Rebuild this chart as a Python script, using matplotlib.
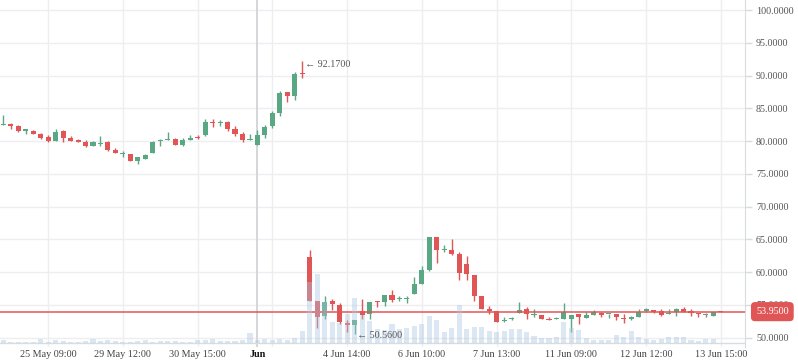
import matplotlib
matplotlib.use("Agg")
import matplotlib.pyplot as plt
from matplotlib.transforms import blended_transform_factory
import numpy as np

# ---------------- data ----------------
opens = [82.5, 82.66, 82.36, 81.6, 81.55, 81.1, 80.6, 80.0, 81.55, 80.5,
         80.1, 79.9, 79.3, 79.6, 79.9, 78.65, 78.0, 78.0, 77.0, 77.3,
         78.1, 80.0, 80.2, 80.35, 79.4, 80.2, 80.65, 80.9, 82.9, 82.7,
         82.9, 81.85, 81.0, 80.1, 79.4, 80.9, 82.3, 84.35, 87.5, 86.8,
         90.3, 62.36, 55.6, 53.3, 55.5, 55.0, 52.2, 51.85, 54.1, 53.55,
         55.5, 55.4, 56.5, 55.9, 55.9, 56.65, 58.2, 60.3, 65.3, 63.3,
         63.4, 62.8, 61.25, 59.6, 56.4, 54.4, 54.1, 52.45, 52.8, 53.7,
         54.3, 53.5, 53.45, 52.8, 52.75, 52.9, 52.85, 53.55, 52.95, 53.45,
         53.7, 53.6, 53.6, 52.9, 52.85, 53.2, 54.1, 54.2, 54.1, 53.65,
         53.95, 54.35, 54.1, 53.7, 53.4, 53.3, 54.0]
highs = [83.9, 82.8, 82.46, 81.9, 81.7, 81.2, 80.9, 81.8, 81.7, 80.8,
         80.3, 80.2, 80.0, 80.8, 80.0, 78.9, 78.4, 78.0, 77.6, 78.0,
         80.0, 80.3, 81.3, 80.5, 80.5, 80.9, 80.9, 83.4, 83.4, 83.2,
         83.1, 82.3, 81.3, 81.0, 81.7, 82.4, 84.55, 87.6, 87.5, 90.5,
         92.17, 63.4, 55.6, 56.4, 55.9, 55.25, 52.6, 52.7, 55.9, 55.45,
         55.5, 56.5, 57.3, 56.3, 56.3, 59.3, 60.9, 65.4, 65.3, 64.1,
         65.0, 63.0, 62.5, 59.6, 56.4, 54.85, 54.1, 53.1, 53.2, 55.35,
         54.7, 54.4, 53.45, 53.1, 53.2, 55.25, 53.45, 53.55, 53.9, 54.2,
         53.9, 53.65, 53.6, 53.55, 53.35, 54.4, 54.5, 54.2, 54.35, 54.35,
         54.5, 54.65, 54.4, 53.7, 53.7, 53.95, 54.0]
lows = [82.4, 81.9, 81.3, 81.1, 81.1, 80.3, 79.8, 80.0, 79.9, 80.0,
        79.9, 79.1, 79.3, 79.3, 78.4, 78.1, 77.6, 77.0, 76.5, 77.3,
        78.1, 79.2, 80.2, 79.4, 79.3, 80.2, 80.3, 80.8, 82.2, 82.3,
        81.6, 80.8, 79.9, 80.1, 79.4, 80.5, 82.05, 83.75, 85.9, 86.2,
        89.55, 55.5, 51.4, 52.8, 54.2, 52.1, 50.8, 50.56, 52.8, 52.8,
        54.6, 54.75, 55.35, 55.6, 55.25, 56.65, 58.2, 60.2, 61.45, 63.1,
        62.6, 58.8, 58.8, 55.6, 54.4, 53.6, 52.4, 52.4, 52.7, 53.7,
        52.8, 53.1, 52.8, 52.6, 52.75, 52.9, 50.8, 52.0, 52.95, 53.45,
        53.2, 52.95, 52.6, 52.2, 52.6, 53.2, 53.95, 53.7, 53.3, 53.65,
        53.35, 53.95, 53.3, 53.2, 53.2, 53.3, 53.95]
closes = [82.6, 82.36, 81.55, 81.7, 81.1, 80.5, 80.0, 81.4, 80.5, 80.0,
          79.9, 79.3, 79.9, 79.7, 78.65, 78.1, 78.1, 77.0, 77.5, 77.8,
          79.9, 80.1, 80.35, 79.4, 80.2, 80.5, 80.5, 82.9, 82.8, 82.8,
          81.9, 81.0, 80.2, 80.15, 80.9, 82.1, 84.35, 87.4, 86.8, 90.3,
          90.25, 55.6, 53.2, 55.35, 55.15, 52.3, 51.85, 52.6, 53.5, 55.45,
          55.4, 56.5, 55.75, 55.95, 55.95, 58.2, 60.3, 65.3, 63.4, 63.4,
          62.8, 59.9, 59.7, 56.4, 54.4, 54.1, 52.4, 52.7, 53.05, 54.2,
          53.55, 53.6, 52.8, 52.7, 52.85, 53.9, 53.45, 53.1, 53.45, 53.95,
          53.45, 53.65, 53.1, 52.85, 53.1, 53.95, 54.3, 53.95, 53.45, 53.7,
          54.4, 53.95, 53.7, 53.6, 53.4, 53.95, 53.95]
volumes = [2.5, 0.5, 0.5, 0.5, 0.5, 3.5, 0.5, 2.5, 1.5, 0.5,
           0.5, 1.5, 3.5, 1.5, 2.5, 1.5, 0.5, 0.5, 1.5, 2.5,
           0.5, 1.5, 1.5, 1.5, 0.5, 0.5, 2.5, 2.5, 3.5, 1.5,
           1.5, 1.5, 2.5, 9.8, 2.5, 3.3, 2.3, 3.3, 2.3, 5.0,
           11.5, 60.7, 68.5, 41.0, 20.7, 20.0, 28.5, 44.5, 28.0, 22.0,
           14.0, 13.0, 18.3, 14.0, 14.2, 16.5, 18.5, 26.5, 22.5, 10.8,
           14.2, 37.5, 13.2, 15.8, 15.2, 11.8, 10.8, 11.8, 13.5, 13.5,
           10.2, 6.5, 4.8, 4.8, 5.8, 20.8, 14.8, 12.5, 4.8, 2.5,
           2.5, 2.5, 7.5, 5.8, 11.5, 5.8, 3.5, 2.5, 3.5, 5.2,
           5.2, 5.2, 2.5, 1.8, 3.5, 3.5, 0.0]
tick_idx = [6, 16, 26, 34, 46, 56, 66, 76, 86, 96]
tick_labels = ["25 May 09:00", "29 May 12:00", "30 May 15:00", "Jun",
               "4 Jun 14:00", "6 Jun 10:00", "7 Jun 13:00", "11 Jun 09:00",
               "12 Jun 12:00", "13 Jun 15:00"]
extra_grid_idx = [36]
month_idx = 34
last_price = 53.95
y_ticks = [50, 55, 60, 65, 70, 75, 80, 85, 90, 95, 100]

# ---------------- style ----------------
UP = "#5aa783"
DOWN = "#e05656"
FLAT = "#8a8a8a"
GRID = "#eceef2"
FONT = ["Liberation Serif", "DejaVu Sans"]

fig = plt.figure(figsize=(7.98, 3.63), dpi=100)
ax = fig.add_axes([0.0, 16 / 363, 745 / 798, 347 / 363])
ax2 = ax.twinx()
n = len(opens)
x = np.arange(n)

ax.set_xlim(-3.3 / 7.475, (745 - 3.3) / 7.475)
ax.set_ylim(48.55, 101.53)

# grid
for yv in y_ticks:
    ax.axhline(yv, color=GRID, lw=1, zorder=0)
for xv in tick_idx + extra_grid_idx:
    if xv == month_idx:
        ax.axvline(xv, color="#d4d6d9", lw=1.4, zorder=0)
    else:
        ax.axvline(xv, color=GRID, lw=1, zorder=0)

# candles
bw = 0.68
for i in range(n):
    o, h, l, c = opens[i], highs[i], lows[i], closes[i]
    col = UP if c > o else (DOWN if c < o else FLAT)
    ax.vlines(i, l, h, color=col, lw=1, zorder=2)
    bottom = min(o, c)
    height = max(abs(c - o), 0.16)
    ax.bar(i, height, bottom=bottom, width=bw, color=col, zorder=3, linewidth=0)

# last price line
ax.axhline(last_price, color=DOWN, lw=1.1, zorder=4)

# axis styling
for s in ["top", "left", "bottom"]:
    ax.spines[s].set_visible(False)
ax.spines["right"].set_color("#d8dbdf")
ax.set_yticks(y_ticks)
ax.set_yticklabels([f"{v:.4f}" for v in y_ticks])
ax.yaxis.tick_right()
ax.yaxis.set_label_position("right")
ax.tick_params(axis="y", which="both", left=False, labelleft=False,
               right=True, labelright=True, length=5, width=1,
               color="#d8dbdf", pad=3, labelcolor="#555555", labelsize=7.3)
ax.set_xticks(tick_idx)
ax.set_xticklabels(tick_labels)
ax.tick_params(axis="x", length=0, pad=2.5, labelcolor="#444444", labelsize=7.3)
for lab in ax.get_xticklabels() + ax.get_yticklabels():
    lab.set_family(FONT)
for lab, t in zip(ax.get_xticklabels(), tick_labels):
    if t == "Jun":
        lab.set_fontweight("bold")
        lab.set_color("#111111")

# volume overlay
ax2.set_ylim(-4.5, 342.5)
ax2.bar(x, volumes, width=bw, color="#aac6e0", alpha=0.42, linewidth=0, zorder=1)
ax2.axhline(0, color="#d9dcdf", lw=1, zorder=0)
ax2.set_yticks([])
ax2.tick_params(axis="y", which="both", left=False, right=False,
                labelleft=False, labelright=False)
for s in ax2.spines.values():
    s.set_visible(False)
ax2.set_xlim(ax.get_xlim())

# annotations for high / low
i_hi = int(np.argmax(highs))
i_lo = int(np.argmin(lows))
ax2.text(i_hi + 0.35, highs[i_hi] - 0.45, "\u2190 " + f"{highs[i_hi]:.4f}",
         transform=ax.transData, ha="left", va="center", fontsize=7.3,
         color="#555555", family=FONT, zorder=6)
ax2.text(i_lo + 0.35, lows[i_lo] - 0.3, "\u2190 " + f"{lows[i_lo]:.4f}",
         transform=ax.transData, ha="left", va="center", fontsize=7.3,
         color="#555555", family=FONT, zorder=6)

# last price tag
trans = blended_transform_factory(ax.transAxes, ax.transData)
ax2.text(1.0148, last_price, f"{last_price:.4f}", transform=trans, ha="left",
         va="center", fontsize=7.3, color="white", family=FONT, zorder=10,
         clip_on=False,
         bbox=dict(boxstyle="round,pad=0.5,rounding_size=0.4",
                   fc=DOWN, ec=DOWN, lw=0))

fig.savefig("out.png", dpi=100)
